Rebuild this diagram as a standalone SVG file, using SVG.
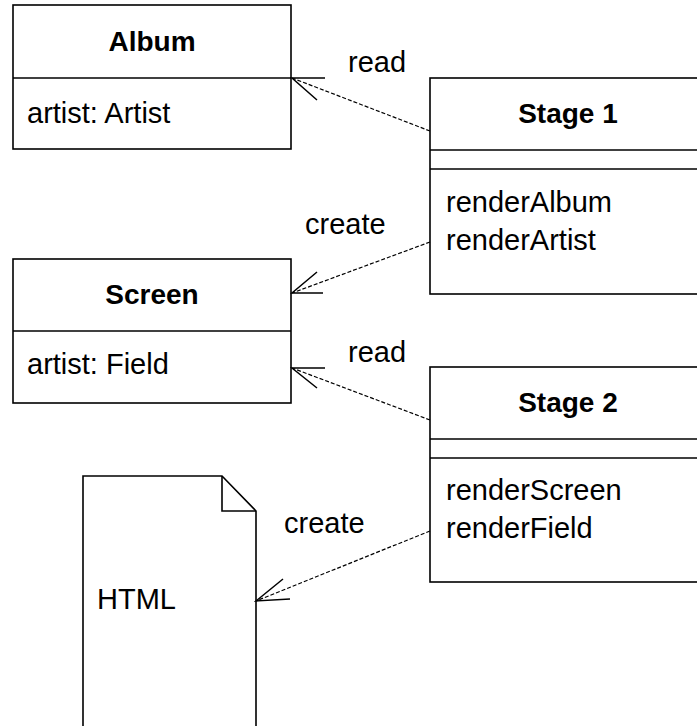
<svg xmlns="http://www.w3.org/2000/svg" width="697" height="726" viewBox="0 0 697 726">
<style>
.box{fill:#fff;stroke:#000;stroke-width:1.6}
.ln{stroke:#000;stroke-width:1.6;fill:none}
.t{font-family:"Liberation Sans",Arial,sans-serif;font-size:29px;fill:#000}
.b{font-weight:bold;text-anchor:middle;font-size:28px}
.dash{stroke:#000;stroke-width:1.2;fill:none;stroke-dasharray:4,2}
.arm{stroke:#000;stroke-width:1.5;fill:none}
</style>
<rect width="697" height="726" fill="#fff"/>
<g id="album">
<rect class="box" x="13" y="5" width="278" height="144"/>
<line class="ln" x1="13" y1="78" x2="291" y2="78"/>
<text class="t b" x="152" y="51">Album</text>
<text class="t" x="27" y="123">artist: Artist</text>
</g>
<g id="stage1">
<rect class="box" x="430" y="78" width="276" height="216"/>
<line class="ln" x1="430" y1="150" x2="706" y2="150"/>
<line class="ln" x1="430" y1="169" x2="706" y2="169"/>
<text class="t b" x="568" y="123">Stage 1</text>
<text class="t" x="446" y="212">renderAlbum</text>
<text class="t" x="446" y="250">renderArtist</text>
</g>
<g id="screen">
<rect class="box" x="13" y="259" width="278" height="144"/>
<line class="ln" x1="13" y1="331" x2="291" y2="331"/>
<text class="t b" x="152" y="304">Screen</text>
<text class="t" x="27" y="374">artist: Field</text>
</g>
<g id="stage2">
<rect class="box" x="430" y="367" width="276" height="215"/>
<line class="ln" x1="430" y1="439" x2="706" y2="439"/>
<line class="ln" x1="430" y1="458" x2="706" y2="458"/>
<text class="t b" x="568" y="412">Stage 2</text>
<text class="t" x="446" y="500">renderScreen</text>
<text class="t" x="446" y="538">renderField</text>
</g>
<g id="html">
<path class="box" d="M83,476 H222 L256,511 V740 H83 Z"/>
<path class="ln" d="M222,476 V511 H256"/>
<text class="t" x="97" y="609">HTML</text>
</g>
<g id="connectors">
<line class="dash" x1="430" y1="131" x2="292" y2="78"/>
<path class="arm" d="M325,78 L292,78 L317,100"/>
<text class="t" x="348" y="72">read</text>
<line class="dash" x1="430" y1="242" x2="292" y2="293"/>
<path class="arm" d="M323,293 L292,293 L317,272"/>
<text class="t" x="305" y="234">create</text>
<line class="dash" x1="430" y1="420" x2="292" y2="368"/>
<path class="arm" d="M325,368 L292,368 L317,388"/>
<text class="t" x="348" y="362">read</text>
<line class="dash" x1="430" y1="531" x2="256" y2="601"/>
<path class="arm" d="M290,599 L256,601 L283,579"/>
<text class="t" x="284" y="533">create</text>
</g>
</svg>
